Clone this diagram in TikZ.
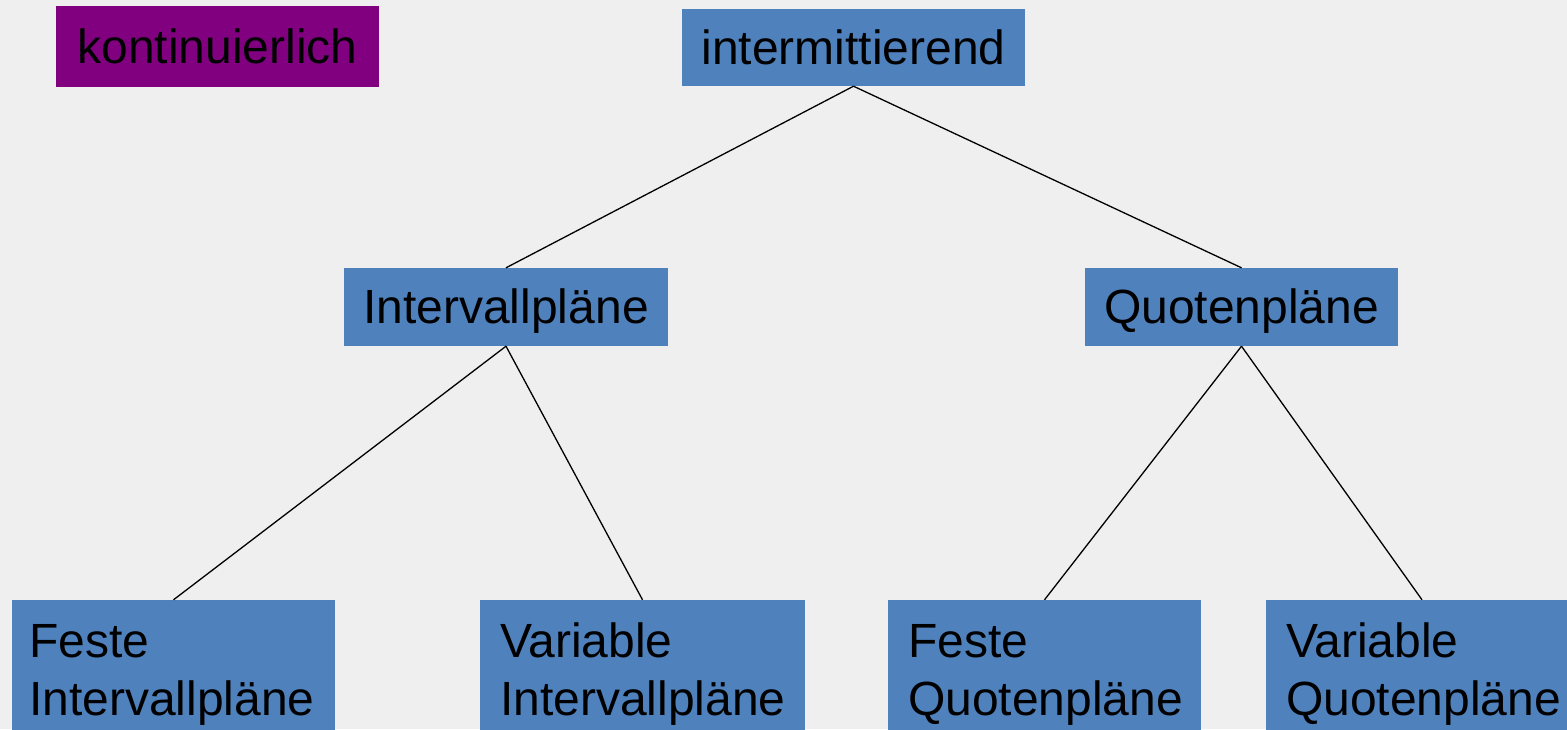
\documentclass[tikz,border=0pt]{standalone}
\usepackage{fontspec}
\setmainfont{Liberation Sans}
\definecolor{bgC}{HTML}{EFEFEF}
\definecolor{blueC}{HTML}{4F81BD}
\definecolor{purpC}{HTML}{800080}
\begin{document}
\begin{tikzpicture}[x=1pt,y=-1pt,
  box/.style={fill=blueC, draw=none, inner sep=0pt, text=black,
    font=\fontsize{48}{58}\selectfont},
  single/.style={box, text height=33pt, text depth=0pt},
  leaf/.style={box, minimum height=149pt, align=left},
  link/.style={draw=black, line width=1.3pt}]
\fill[bgC] (0,0) rectangle (1567,729);
\useasboundingbox (0,0) rectangle (1567,729);
\node[single, fill=purpC, minimum width=323pt, minimum height=81pt] (kont) at (217.5,46.5) {kontinuierlich};
\node[single, minimum width=343pt, minimum height=77pt] (inter) at (853.5,47.5) {intermittierend};
\node[single, minimum width=324pt, minimum height=78pt] (ip) at (506,307) {Intervallpläne};
\node[single, minimum width=313pt, minimum height=78pt] (qp) at (1241.5,307) {Quotenpläne};
\node[leaf, minimum width=323pt, text width=289pt] (fi) at (173.5,674.5) {Feste\\Intervallpläne};
\node[leaf, minimum width=325pt, text width=285pt] (vi) at (642.5,674.5) {Variable\\Intervallpläne};
\node[leaf, minimum width=313pt, text width=273pt] (fq) at (1044.5,674.5) {Feste\\Quotenpläne};
\node[leaf, minimum width=312pt, text width=272pt] (vq) at (1422,674.5) {Variable\\Quotenpläne};
\draw[link] (inter.south) -- (ip.north);
\draw[link] (inter.south) -- (qp.north);
\draw[link] (ip.south) -- (fi.north);
\draw[link] (ip.south) -- (vi.north);
\draw[link] (qp.south) -- (fq.north);
\draw[link] (qp.south) -- (vq.north);
\end{tikzpicture}
\end{document}
